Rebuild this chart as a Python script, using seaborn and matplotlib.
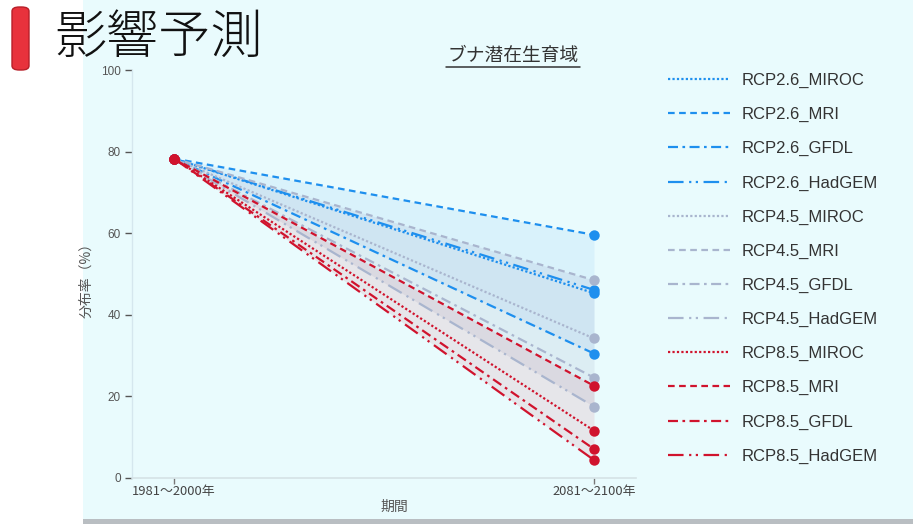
import matplotlib
matplotlib.use("Agg")
import matplotlib.pyplot as plt
import seaborn as sns
import pandas as pd
from matplotlib.lines import Line2D
from matplotlib.patches import Rectangle, FancyBboxPatch

sns.set_theme(style="white")
plt.rcParams['font.family'] = ['Liberation Sans', 'Noto Sans CJK JP', 'DejaVu Sans']
JP = ['Noto Sans CJK JP', 'DejaVu Sans']

# ---------------- data ----------------
periods = ["1981～2000年", "2081～2100年"]
series_names = [
    "RCP2.6_MIROC", "RCP2.6_MRI", "RCP2.6_GFDL", "RCP2.6_HadGEM",
    "RCP4.5_MIROC", "RCP4.5_MRI", "RCP4.5_GFDL", "RCP4.5_HadGEM",
    "RCP8.5_MIROC", "RCP8.5_MRI", "RCP8.5_GFDL", "RCP8.5_HadGEM",
]
start_value = 78.3
rcp26_end = [45.3, 59.6, 30.5, 46.1]
rcp45_end = [34.2, 48.5, 24.6, 17.5]
rcp85_end = [11.6, 22.6, 7.1, 4.4]
scenarios = ["RCP2.6", "RCP4.5", "RCP8.5"]
title = "ブナ潜在生育域"
header = "影響予測"
ylabel = "分布率（%）"
xlabel = "期間"

# ---------------- styles ----------------
colors = {"RCP2.6": "#1E8FEE", "RCP4.5": "#A9B5CE", "RCP8.5": "#D0132D"}
fill_alpha = {"RCP2.6": 0.08, "RCP4.5": 0.2, "RCP8.5": 0.09}
dash_styles = [
    (0, (1, 1)),
    (0, (3, 2)),
    (0, (4.5, 2, 1.2, 2)),
    (0, (7, 2.5, 1, 2, 1, 2.5)),
]

W, H = 913, 524
fig = plt.figure(figsize=(W / 100, H / 100), dpi=100)
fig.patch.set_facecolor("white")
bg = "#E9FBFD"
fig.add_artist(Rectangle((83 / W, 5 / H), 1 - 83 / W, 1 - 5 / H, transform=fig.transFigure,
                         facecolor=bg, edgecolor="none", zorder=-10))
fig.add_artist(Rectangle((83 / W, 0), 1 - 83 / W, 5 / H, transform=fig.transFigure,
                         facecolor="#B9BEC2", edgecolor="none", zorder=-10))

# header bar + header text
fig.add_artist(FancyBboxPatch((12 / W, (H - 70) / H), 17 / W, 63 / H,
                              boxstyle="round,pad=0,rounding_size=0.008",
                              transform=fig.transFigure, facecolor="#E8323C",
                              edgecolor="#B81E28", linewidth=1, zorder=5))
fig.text(54 / W, 1 - 38 / H, header, family=JP, fontsize=37.5, fontweight="light",
         color="#111111", ha="left", va="center", zorder=6)

ax = fig.add_axes([132 / W, (H - 478) / H, 504 / W, 408 / H])
ax.patch.set_alpha(0)

ends = {"RCP2.6": rcp26_end, "RCP4.5": rcp45_end, "RCP8.5": rcp85_end}

# ranges (fills)
for sc in scenarios:
    vals = ends[sc]
    ax.fill_between([0, 1], [start_value, min(vals)], [start_value, max(vals)],
                    color=colors[sc], alpha=fill_alpha[sc], linewidth=0, zorder=1)

handles = []
k = 0
for sc in scenarios:
    for i, v in enumerate(ends[sc]):
        name = series_names[k]
        df = pd.DataFrame({"period": periods, "value": [start_value, v]})
        sns.lineplot(data=df, x="period", y="value", ax=ax, color=colors[sc],
                     linestyle=dash_styles[i], linewidth=1.6, marker="o",
                     markersize=7.5, markeredgewidth=0, zorder=3 + k)
        handles.append(Line2D([0], [0], color=colors[sc], linestyle=dash_styles[i],
                              linewidth=1.6, label=name))
        k += 1

ax.set_xlim(-0.1, 1.1)
ax.set_ylim(0, 100)
ax.set_yticks([0, 20, 40, 60, 80, 100])
ax.set_xticks([0, 1])
ax.set_xticklabels(periods, family=JP)
ax.tick_params(axis="y", which="both", left=True, length=5, width=1, color="#555555",
               labelsize=8.5, labelcolor="#555555", pad=3)
ax.tick_params(axis="x", which="both", bottom=True, length=4, width=1, color="#777777",
               labelsize=9.3, labelcolor="#444444", pad=1)
for s in ["top", "right"]:
    ax.spines[s].set_visible(False)
ax.spines["left"].set_color("#D5E7EE")
ax.spines["bottom"].set_color("#D5E2E6")
ax.spines["left"].set_linewidth(1)
ax.spines["bottom"].set_linewidth(1.2)
ax.grid(False)

ax.set_ylabel(ylabel, family=JP, fontsize=10, color="#555555")
ax.yaxis.set_label_coords(-(132 - 93) / 504, (478 - 277) / 408)
ax.set_xlabel(xlabel, family=JP, fontsize=10, color="#555555")
ax.xaxis.set_label_coords((394 - 132) / 504, -(500 - 478) / 408)

# title with underline
fig.text(513 / W, 1 - 56 / H, title, family=JP, fontsize=13.5, color="#333333",
         ha="center", va="center")
fig.add_artist(Line2D([446 / W, 580 / W], [1 - 67 / H, 1 - 67 / H], transform=fig.transFigure,
                      color="#333333", linewidth=1.1))

fig.legend(handles=handles, loc="upper left", bbox_to_anchor=(668 / W, 1 - 73 / H),
           frameon=False, fontsize=12, handlelength=3.7, handletextpad=0.72,
           labelspacing=1.14, borderpad=0, borderaxespad=0, labelcolor="#333333")

fig.savefig("out.png", dpi=100, facecolor=fig.get_facecolor())
